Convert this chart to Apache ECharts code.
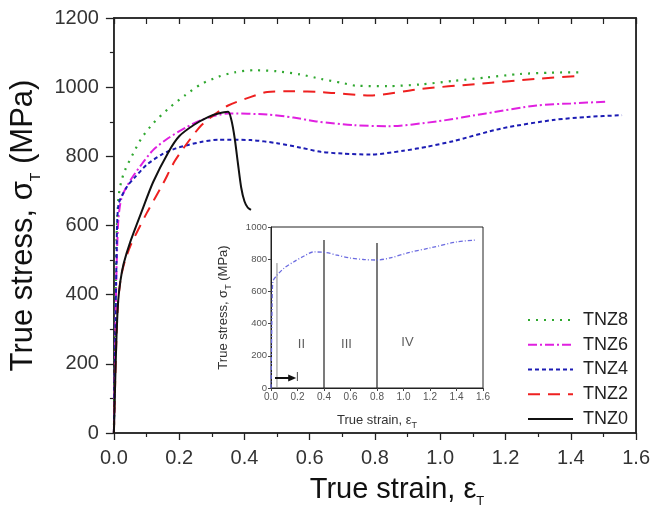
<!DOCTYPE html>
<html><head><meta charset="utf-8">
<script src="https://cdn.jsdelivr.net/npm/echarts@6/dist/echarts.min.js"></script>
<style>html,body{margin:0;padding:0;background:#fff}#c{width:653px;height:513px}</style>
</head><body><div id="c"></div>
<script>
// ---- data (strain, true stress MPa) ----
const tnz8Strain = [0,0.004,0.008,0.014,0.022,0.034,0.06,0.085,0.12,0.167,0.22,0.268,0.32,0.37,0.43,0.5,0.57,0.634,0.7,0.745,0.84,0.94,1.04,1.14,1.244,1.34,1.43];
const tnz8Stress = [0,300,560,680,725,760,810,853,895,938,978,1009,1030,1043,1049,1046,1037,1024,1012,1004,1003,1008,1018,1028,1038,1042,1043];
const tnz6Strain = [0,0.004,0.008,0.014,0.024,0.05,0.085,0.12,0.167,0.22,0.268,0.35,0.47,0.55,0.62,0.735,0.84,0.99,1.14,1.295,1.4,1.51];
const tnz6Stress = [0,250,470,620,682,730,777,818,853,883,905,924,921,912,901,890,887,901,924,947,953,958];
const tnz4Strain = [0,0.004,0.008,0.014,0.04,0.064,0.1,0.146,0.19,0.228,0.27,0.32,0.42,0.5,0.573,0.634,0.7,0.786,0.887,0.96,1.04,1.19,1.345,1.45,1.557];
const tnz4Stress = [0,250,500,660,712,739,775,805,823,833,842,848,847,838,825,813,808,805,816,828,844,881,905,914,919];
const tnz2Strain = [0,0.004,0.008,0.013,0.02,0.03,0.05,0.1,0.15,0.187,0.23,0.268,0.31,0.35,0.42,0.47,0.55,0.634,0.786,0.94,1.11,1.295,1.417];
const tnz2Stress = [0,150,280,380,440,485,540,635,720,787,845,890,922,947,972,986,988,986,976,995,1009,1024,1032];
const tnz0Strain = [0,0.004,0.008,0.013,0.02,0.03,0.05,0.085,0.12,0.167,0.2,0.247,0.29,0.32,0.35,0.36,0.37,0.38,0.39,0.4,0.41,0.42];
const tnz0Stress = [0,150,280,380,440,490,552,640,725,812,858,892,914,924,929,905,853,780,710,670,652,645];
// inset (TNZ4 with deformation stages)
const insetStrain = [0,0.004,0.008,0.014,0.045,0.1,0.17,0.25,0.32,0.41,0.5,0.6,0.7,0.8,0.9,1.03,1.2,1.4,1.55];
const insetStress = [0,250,500,660,700,745,783,820,845,842,825,807,798,795,808,839,870,907,919];
const stageLineX = [0.045, 0.4, 0.8];
const stageLineTop = [776, 920, 900];
const stageNames = ['II','III','IV'];
const stageNameX = [0.23, 0.57, 1.03];
const stageNameY = [270, 270, 280];
const arrowFrom = [0.03, 62];
const arrowTo = [0.16, 62];
const arrowLabel = ['I', 0.2, 62];
const names = ['TNZ8','TNZ6','TNZ4','TNZ2','TNZ0'];
const xTicks = {min:0, max:1.6, interval:0.2};
const yTicks = {min:0, max:1200, interval:200};
const yInset = {min:0, max:1000, interval:200};

const zip = (a,b)=>a.map((v,i)=>[v,b[i]]);
const FONT = 'Liberation Sans';
const styles = [
  {color:'#2fa82f', type:[2,6], width:2.2},
  {color:'#e020e0', type:[9,3,2,3], width:2},
  {color:'#1c1cb4', type:[4,3], width:2},
  {color:'#ee2020', type:[12,8], width:2},
  {color:'#111111', type:'solid', width:2}
];
const mainData = [zip(tnz8Strain,tnz8Stress), zip(tnz6Strain,tnz6Stress), zip(tnz4Strain,tnz4Stress), zip(tnz2Strain,tnz2Stress), zip(tnz0Strain,tnz0Stress)];

const series = names.map((n,i)=>({
  name:n, type:'line', xAxisIndex:0, yAxisIndex:0, data:mainData[i], symbol:'none', smooth:0.25,
  lineStyle:{color:styles[i].color, type:styles[i].type, width:styles[i].width}, itemStyle:{color:styles[i].color, opacity:0}, z:3
}));
series.push({
  type:'line', xAxisIndex:1, yAxisIndex:1, data:zip(insetStrain,insetStress), symbol:'none', smooth:0.3,
  lineStyle:{color:'#6b6be0', type:[4,2,1,2], width:1.3}, z:12
});
stageLineX.forEach((x,i)=>{
  series.push({type:'line', xAxisIndex:1, yAxisIndex:1, data:[[x,0],[x,stageLineTop[i]]], symbol:'none',
    lineStyle:{color: i===0 ? '#888' : '#222', width: i===0 ? 1 : 1.2}, z:11, silent:true});
});
// arrow pointing to stage I
series.push({type:'line', xAxisIndex:1, yAxisIndex:1, z:13, silent:true, showSymbol:true,
  lineStyle:{color:'#111', width:2},
  data:[{value:arrowFrom, symbol:'none'}, {value:arrowTo, symbol:'triangle', symbolSize:[7,8], symbolRotate:-90, itemStyle:{color:'#111'}}]
});
series.push({type:'scatter', xAxisIndex:1, yAxisIndex:1, symbolSize:0, z:13, silent:true,
  data: stageNames.map((s,i)=>({value:[stageNameX[i],stageNameY[i]], label:{show:true, formatter:s, position:'inside', fontSize:13, color:'#333', fontFamily:FONT}}))
    .concat([{value:[arrowLabel[1],arrowLabel[2]], label:{show:true, formatter:arrowLabel[0], position:'inside', fontSize:12, color:'#333', fontFamily:FONT}}])
});

const axisBase = {
  axisLine:{show:true, onZero:false, lineStyle:{color:'#222', width:1.5}},
  splitLine:{show:false},
};
const option = {
  backgroundColor:'#fff',
  animation:false,
  textStyle:{fontFamily:FONT},
  grid:[
    {left:112, top:18, right:16, bottom:73, show:true, borderColor:'#333', borderWidth:1.5, backgroundColor:'transparent'},
    {left:271, top:227, width:212, height:161, show:true, borderColor:'#222', borderWidth:1, backgroundColor:'#fff', z:10}
  ],
  legend:{
    orient:'vertical', left:522, top:306, itemWidth:45, itemHeight:14, itemGap:6.75,
    data:names, itemStyle:{opacity:0},
    textStyle:{fontSize:18, lineHeight:18, color:'#222', fontFamily:FONT, padding:[0,0,0,5]}
  },
  xAxis:[
    Object.assign({}, axisBase, {gridIndex:0, type:'value', min:xTicks.min, max:xTicks.max, interval:xTicks.interval,
      axisTick:{show:true, inside:false, length:7, lineStyle:{color:'#222', width:1.3}},
      minorTick:{show:true, splitNumber:2, length:4, lineStyle:{color:'#222', width:1.2}},
      axisLabel:{fontSize:20, color:'#333', margin:15, formatter:v=>v.toFixed(1), fontFamily:FONT},
      name:'True strain, ε{sub|T}', nameLocation:'middle', nameGap:38,
      nameTextStyle:{fontSize:29, color:'#111', fontFamily:FONT, padding:[0,0,0,44], rich:{sub:{fontSize:13, color:'#111', padding:[24,0,0,0], fontFamily:FONT}}}
    }),
    Object.assign({}, axisBase, {gridIndex:1, type:'value', min:xTicks.min, max:xTicks.max, interval:xTicks.interval, z:11,
      axisLine:{show:true, onZero:false, lineStyle:{color:'#222', width:1}},
      axisTick:{show:true, inside:false, length:3, lineStyle:{color:'#444'}},
      axisLabel:{fontSize:10, color:'#555', margin:4, formatter:v=>v.toFixed(1), fontFamily:FONT},
      name:'True strain, ε{sub|T}', nameLocation:'middle', nameGap:22,
      nameTextStyle:{fontSize:13, color:'#333', fontFamily:FONT, rich:{sub:{fontSize:9, color:'#333', padding:[11,0,0,0], fontFamily:FONT}}}
    }),
    Object.assign({}, axisBase, {gridIndex:0, type:'value', position:'top', min:xTicks.min, max:xTicks.max, interval:xTicks.interval,
      axisTick:{show:true, inside:true, length:6, lineStyle:{color:'#222', width:1.3}},
      minorTick:{show:true, splitNumber:2, length:6, lineStyle:{color:'#222', width:1.2}},
      axisLabel:{show:false}
    })
  ],
  yAxis:[
    Object.assign({}, axisBase, {gridIndex:0, type:'value', min:yTicks.min, max:yTicks.max, interval:yTicks.interval,
      axisTick:{show:true, inside:false, length:8, lineStyle:{color:'#222', width:1.3}},
      minorTick:{show:true, splitNumber:2, length:4, lineStyle:{color:'#222', width:1.2}},
      axisLabel:{fontSize:20, color:'#333', margin:15, formatter:v=>String(v), fontFamily:FONT},
      name:'True stress, σ{sub|T} (MPa)', nameLocation:'middle', nameGap:62, nameRotate:90,
      nameTextStyle:{fontSize:31, color:'#111', fontFamily:FONT, rich:{sub:{fontSize:14, color:'#111', padding:[26,0,0,0], fontFamily:FONT}}}
    }),
    Object.assign({}, axisBase, {gridIndex:1, type:'value', min:yInset.min, max:yInset.max, interval:yInset.interval, z:11,
      axisLine:{show:true, onZero:false, lineStyle:{color:'#222', width:1}},
      axisTick:{show:true, inside:false, length:3, lineStyle:{color:'#444'}},
      axisLabel:{fontSize:9.5, color:'#555', margin:4, formatter:v=>String(v), fontFamily:FONT},
      name:'True stress, σ{sub|T} (MPa)', nameLocation:'middle', nameGap:38, nameRotate:90,
      nameTextStyle:{fontSize:13, color:'#333', fontFamily:FONT, rich:{sub:{fontSize:9, color:'#333', padding:[11,0,0,0], fontFamily:FONT}}}
    }),
    Object.assign({}, axisBase, {gridIndex:0, type:'value', position:'right', min:yTicks.min, max:yTicks.max, interval:yTicks.interval,
      axisTick:{show:false}, axisLabel:{show:false}
    })
  ],
  series: series
};
const chart = echarts.init(document.getElementById('c'), null, {renderer:'canvas'});
chart.setOption(option);
</script></body></html>
